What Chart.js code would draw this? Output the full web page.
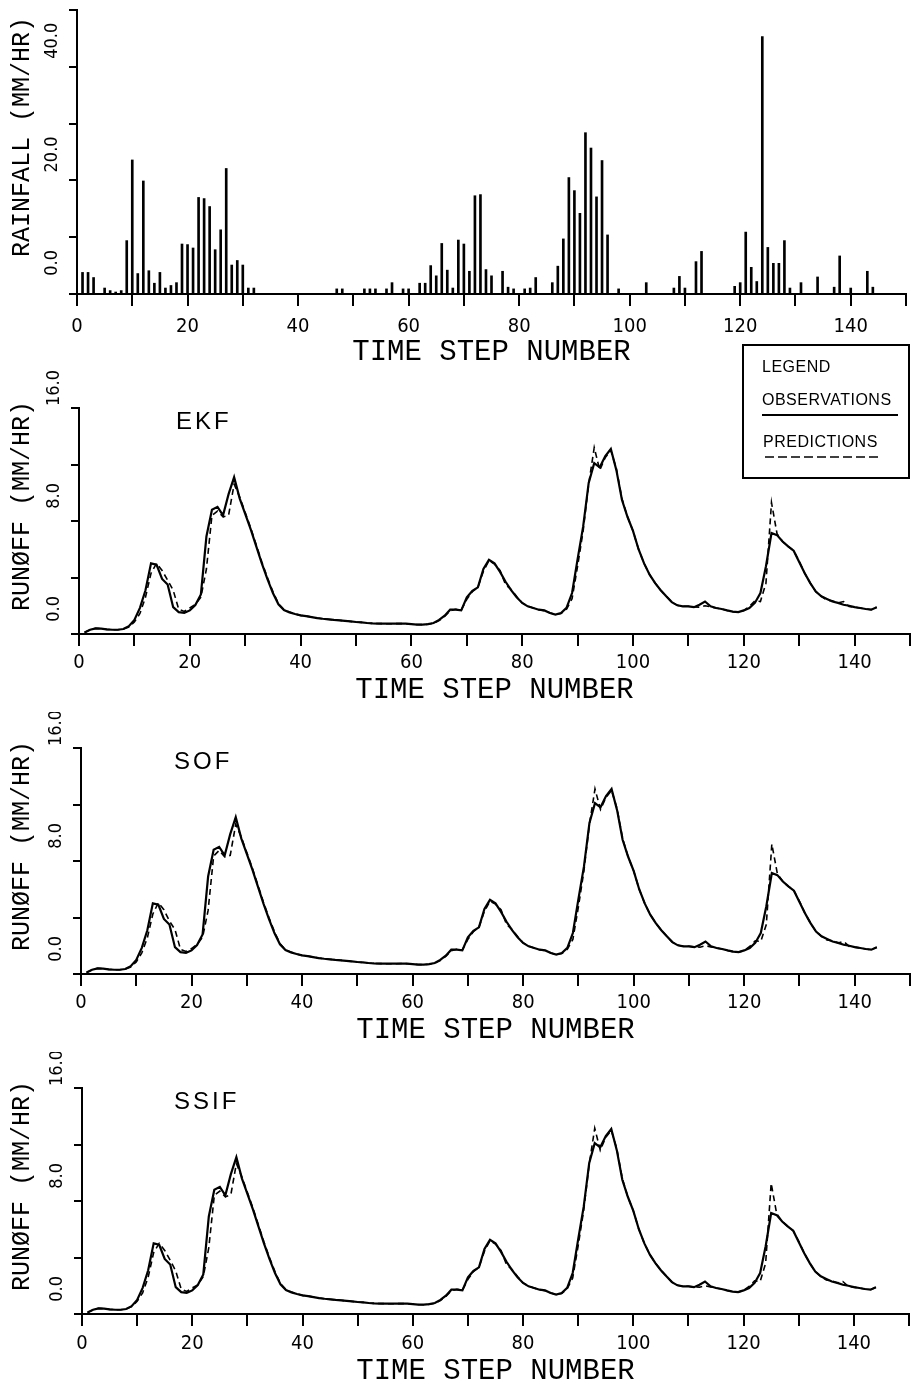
<!DOCTYPE html>
<html>
<head>
<meta charset="utf-8">
<title>Rainfall and runoff: EKF / SOF / SSIF</title>
<script src="https://cdn.jsdelivr.net/npm/chart.js@4.4.1/dist/chart.umd.min.js"></script>
<style>
  html, body { margin: 0; padding: 0; background: #fff; }
  body { width: 917px; height: 1387px; position: relative; overflow: hidden; }
  canvas { position: absolute; left: 0; }
</style>
</head>
<body>
<canvas id="rainChart" width="917" height="402" style="top:-30px"></canvas>
<canvas id="ekfChart" width="917" height="376" style="top:336px"></canvas>
<canvas id="sofChart" width="917" height="340" style="top:712px"></canvas>
<canvas id="ssifChart" width="917" height="335" style="top:1052px"></canvas>
<script>
// ----- DATA -----
const rainSteps = [1, 2, 3, 5, 6, 7, 8, 9, 10, 11, 12, 13, 14, 15, 16, 17, 18, 19, 20, 21,
  22, 23, 24, 25, 26, 27, 28, 29, 30, 31, 32, 47, 48, 52, 53, 54, 56, 57, 59, 60,
  62, 63, 64, 65, 66, 67, 68, 69, 70, 71, 72, 73, 74, 75, 77, 78, 79, 81, 82, 83,
  86, 87, 88, 89, 90, 91, 92, 93, 94, 95, 96, 98, 103, 108, 109, 110, 112, 113,
  119, 120, 121, 122, 123, 124, 125, 126, 127, 128, 129, 131, 134, 137, 138, 140, 143, 144];
const rainValues = [3.8, 3.8, 2.9, 1.05, 0.6, 0.35, 0.6, 9.4, 23.6, 3.6, 19.9, 4.1, 1.9, 3.8, 1.05, 1.5, 2.0, 8.8, 8.7, 8.1,
  17.0, 16.8, 15.4, 7.8, 11.3, 22.1, 5.1, 5.9, 5.1, 1.05, 1.05, 0.9, 0.9, 0.9, 0.9, 0.9, 0.9, 2.0, 0.9, 0.9,
  1.9, 1.9, 5.0, 3.2, 8.9, 4.2, 1.05, 9.5, 8.8, 4.0, 17.3, 17.5, 4.3, 3.2, 4.0, 1.2, 0.9, 0.9, 1.05, 2.9,
  2.0, 4.9, 9.7, 20.5, 18.2, 14.2, 28.4, 25.7, 17.1, 23.5, 10.4, 0.9, 2.0, 1.05, 3.1, 1.05, 5.7, 7.5,
  1.35, 2.0, 10.9, 4.7, 2.2, 45.3, 8.2, 5.4, 5.4, 9.4, 1.05, 2.0, 3.0, 1.2, 6.7, 1.05, 4.0, 1.2];

const timeSteps = Array.from({ length: 144 }, (_, i) => i + 1);

const observed = [
  0.10, 0.30, 0.40, 0.38, 0.33, 0.30, 0.30, 0.35, 0.55, 1.00, 1.85, 3.10,
  5.00, 4.90, 3.90, 3.50, 1.90, 1.55, 1.50, 1.67, 2.05, 2.80, 6.90, 8.80,
  9.00, 8.40, 9.90, 11.10, 9.60, 8.50, 7.40, 6.20, 5.00, 3.90, 2.90, 2.10,
  1.70, 1.53, 1.42, 1.32, 1.27, 1.20, 1.13, 1.08, 1.04, 1.00, 0.97, 0.93,
  0.89, 0.85, 0.82, 0.78, 0.75, 0.74, 0.73, 0.73, 0.73, 0.74, 0.73, 0.70,
  0.67, 0.66, 0.70, 0.78, 1.00, 1.30, 1.72, 1.72, 1.67, 2.60, 3.05, 3.30,
  4.60, 5.25, 5.00, 4.40, 3.70, 3.10, 2.60, 2.20, 1.96, 1.84, 1.72, 1.67,
  1.49, 1.37, 1.49, 1.85, 2.90, 5.30, 7.60, 10.70, 12.10, 11.80, 12.60, 13.10,
  11.60, 9.50, 8.30, 7.30, 6.00, 5.00, 4.20, 3.60, 3.10, 2.67, 2.26, 2.03,
  1.96, 1.96, 1.90, 2.07, 2.30, 1.96, 1.84, 1.77, 1.67, 1.58, 1.55, 1.67,
  1.84, 2.20, 2.90, 4.80, 7.15, 7.00, 6.55, 6.20, 5.90, 5.10, 4.30, 3.60,
  3.00, 2.67, 2.48, 2.30, 2.20, 2.07, 2.00, 1.90, 1.84, 1.77, 1.72, 1.90
];

const ekfPredicted = [
  0.10, 0.30, 0.40, 0.38, 0.33, 0.30, 0.30, 0.35, 0.50, 0.85, 1.45, 2.60,
  4.30, 5.00, 4.50, 3.80, 3.10, 1.75, 1.60, 1.85, 2.10, 2.60, 4.60, 8.40,
  8.70, 8.30, 8.40, 10.60, 9.70, 8.60, 7.50, 6.30, 5.10, 4.00, 3.00, 2.15,
  1.72, 1.55, 1.42, 1.32, 1.27, 1.20, 1.13, 1.08, 1.04, 1.00, 0.97, 0.93,
  0.89, 0.85, 0.82, 0.78, 0.75, 0.74, 0.73, 0.73, 0.73, 0.74, 0.73, 0.70,
  0.67, 0.66, 0.69, 0.76, 0.95, 1.25, 1.65, 1.75, 1.70, 2.45, 3.00, 3.30,
  4.45, 5.20, 4.95, 4.50, 3.50, 3.15, 2.65, 2.20, 1.98, 1.84, 1.72, 1.65,
  1.50, 1.37, 1.45, 1.75, 2.50, 4.80, 7.30, 10.60, 13.20, 11.60, 12.50, 13.00,
  11.70, 9.60, 8.30, 7.30, 6.00, 5.00, 4.20, 3.60, 3.10, 2.67, 2.26, 2.03,
  1.96, 1.96, 1.92, 1.90, 2.00, 1.92, 1.84, 1.77, 1.67, 1.58, 1.55, 1.67,
  1.95, 2.35, 2.30, 3.60, 9.30, 7.10, 6.55, 6.20, 5.90, 5.15, 4.30, 3.60,
  3.00, 2.67, 2.40, 2.35, 2.20, 2.30, 1.95, 1.90, 1.84, 1.77, 1.72, 1.90
];

const sofPredicted = [
  0.10, 0.30, 0.40, 0.38, 0.33, 0.30, 0.30, 0.35, 0.50, 0.85, 1.50, 2.55,
  4.25, 5.05, 4.55, 3.75, 3.15, 1.75, 1.60, 1.80, 2.10, 2.60, 4.50, 8.35,
  8.75, 8.30, 8.40, 10.60, 9.70, 8.60, 7.50, 6.30, 5.10, 4.00, 3.00, 2.15,
  1.72, 1.55, 1.42, 1.32, 1.27, 1.20, 1.13, 1.08, 1.04, 1.00, 0.97, 0.93,
  0.89, 0.85, 0.82, 0.78, 0.75, 0.74, 0.73, 0.73, 0.73, 0.74, 0.73, 0.70,
  0.67, 0.66, 0.69, 0.76, 0.95, 1.25, 1.65, 1.75, 1.70, 2.45, 3.00, 3.30,
  4.45, 5.15, 4.95, 4.55, 3.50, 3.15, 2.65, 2.20, 1.98, 1.84, 1.72, 1.65,
  1.50, 1.37, 1.45, 1.75, 2.45, 4.75, 7.30, 10.60, 13.10, 11.65, 12.50, 13.00,
  11.70, 9.60, 8.30, 7.30, 6.00, 5.00, 4.20, 3.60, 3.10, 2.67, 2.26, 2.03,
  1.96, 1.96, 1.92, 1.90, 2.00, 1.92, 1.84, 1.77, 1.67, 1.58, 1.55, 1.67,
  1.95, 2.35, 2.30, 3.50, 9.20, 7.10, 6.55, 6.20, 5.90, 5.15, 4.30, 3.60,
  3.00, 2.67, 2.40, 2.35, 2.20, 2.30, 1.95, 1.90, 1.84, 1.77, 1.72, 1.90
];

const ssifPredicted = [
  0.10, 0.30, 0.40, 0.38, 0.33, 0.30, 0.30, 0.35, 0.52, 0.90, 1.50, 2.60,
  4.35, 5.00, 4.50, 3.80, 3.05, 1.75, 1.60, 1.85, 2.05, 2.65, 4.70, 8.40,
  8.70, 8.30, 8.45, 10.65, 9.70, 8.60, 7.50, 6.30, 5.10, 4.00, 3.00, 2.15,
  1.72, 1.55, 1.42, 1.32, 1.27, 1.20, 1.13, 1.08, 1.04, 1.00, 0.97, 0.93,
  0.89, 0.85, 0.82, 0.78, 0.75, 0.74, 0.73, 0.73, 0.73, 0.74, 0.73, 0.70,
  0.67, 0.66, 0.69, 0.76, 0.95, 1.25, 1.65, 1.75, 1.70, 2.45, 3.00, 3.30,
  4.45, 5.20, 4.95, 4.50, 3.50, 3.15, 2.65, 2.20, 1.98, 1.84, 1.72, 1.65,
  1.50, 1.37, 1.45, 1.78, 2.55, 4.85, 7.35, 10.60, 13.15, 11.60, 12.50, 13.00,
  11.70, 9.60, 8.30, 7.30, 6.00, 5.00, 4.20, 3.60, 3.10, 2.67, 2.26, 2.03,
  1.96, 1.96, 1.92, 1.90, 2.00, 1.92, 1.84, 1.77, 1.67, 1.58, 1.55, 1.67,
  1.95, 2.35, 2.30, 3.60, 9.25, 7.10, 6.55, 6.20, 5.90, 5.15, 4.30, 3.60,
  3.00, 2.67, 2.40, 2.35, 2.20, 2.30, 1.95, 1.90, 1.84, 1.77, 1.72, 1.90
];

const xTickLabels = [0, 20, 40, 60, 80, 100, 120, 140];
const rainTickLabels = [0, 20, 40];
const runoffTickLabels = [0, 8, 16];


// ----- FONTS / DEFAULTS -----
const MONO = "'Liberation Mono', 'DejaVu Sans Mono', monospace";
const NARROW = "'Liberation Sans Narrow', 'DejaVu Sans Condensed', 'Liberation Sans', sans-serif";
const SANS = "'Liberation Sans', Arial, sans-serif";

Chart.defaults.color = "#000";
Chart.defaults.animation = false;


// ----- AXIS HELPERS -----
function timeAxis(tickPad, titlePad, height) {
    return {
        type: "linear",
        min: 0,
        max: 150,
        offset: false,
        border: { display: true, color: "#000", width: 2 },
        grid: {
            display: true, drawOnChartArea: false, drawTicks: true, offset: false,
            tickLength: 12, lineWidth: 2, color: "#000"
        },
        ticks: {
            stepSize: 10, autoSkip: false, minRotation: 0, maxRotation: 0,
            padding: tickPad, color: "#000",
            font: { family: NARROW, size: 20, lineHeight: 1 },
            callback: v => xTickLabels.includes(v) ? String(v) : ""
        },
        title: {
            display: true, text: "TIME STEP NUMBER", color: "#000",
            font: { family: MONO, size: 29, lineHeight: 1 },
            padding: { top: 0, bottom: titlePad }
        },
        afterFit: s => { s.height = height; }
    };
}

// leading spaces nudge the rotated title a little above the axis centre, as in the original plot
function valueAxis(max, step, labels, width, labelShift, titleText) {
    return {
        min: 0,
        max: max,
        border: { display: true, color: "#000", width: 2 },
        grid: {
            display: true, drawOnChartArea: false, drawTicks: true,
            tickLength: 8, lineWidth: 2, color: "#000"
        },
        ticks: {
            stepSize: step, autoSkip: false, minRotation: 90, maxRotation: 90,
            labelOffset: labelShift, padding: 17, color: "#000",
            font: { family: NARROW, size: 18, lineHeight: 1 },
            callback: v => labels.includes(v) ? v.toFixed(1) : ""
        },
        title: {
            display: true, text: "  " + titleText, color: "#000",
            font: { family: MONO, size: 25, lineHeight: 1 },
            padding: { top: 10, bottom: 0 }
        },
        afterFit: s => { s.width = width; }
    };
}

function points(values, steps) {
    return values.map((v, i) => ({ x: steps[i], y: v }));
}


// ----- PLUGINS -----
const panelLabel = {
    id: "panelLabel",
    afterDraw(chart, args, opts) {
        if (!opts.text) return;
        const { ctx, chartArea } = chart;
        ctx.save();
        ctx.font = "24px " + SANS;
        ctx.letterSpacing = "3px";
        ctx.fillStyle = "#000";
        ctx.fillText(opts.text, chartArea.left + opts.dx, chartArea.top + opts.dy);
        ctx.restore();
    }
};

const legendBox = {
    id: "legendBox",
    afterDraw(chart) {
        const { ctx, chartArea } = chart;
        const left = chartArea.right - 167;
        const top = chartArea.top - 63;
        ctx.save();
        ctx.strokeStyle = "#000";
        ctx.lineWidth = 2;
        ctx.strokeRect(left, top, 166, 133);

        ctx.fillStyle = "#000";
        ctx.font = "16px " + SANS;
        ctx.letterSpacing = "0.5px";
        ctx.fillText("LEGEND", left + 19, top + 27);
        ctx.fillText("OBSERVATIONS", left + 19, top + 60);
        ctx.fillText("PREDICTIONS", left + 20, top + 102);

        ctx.beginPath();
        ctx.moveTo(left + 19, top + 70);
        ctx.lineTo(left + 155, top + 70);
        ctx.stroke();

        ctx.setLineDash([9, 4]);
        ctx.lineWidth = 1.6;
        ctx.beginPath();
        ctx.moveTo(left + 22, top + 112);
        ctx.lineTo(left + 138, top + 112);
        ctx.stroke();
        ctx.restore();
    }
};


// ----- RAINFALL CHART -----
new Chart(document.getElementById("rainChart"), {
    type: "bar",
    data: {
        datasets: [{
            data: points(rainValues, rainSteps),
            backgroundColor: "#000",
            borderWidth: 0,
            barThickness: 2
        }]
    },
    options: {
        responsive: false,
        layout: { padding: { top: 40, right: 4, left: 0, bottom: 0 } },
        plugins: { legend: { display: false }, tooltip: { enabled: false } },
        scales: {
            x: timeAxis(11, 5, 78),
            y: valueAxis(50, 10, rainTickLabels, 77, -44, "RAINFALL (MM/HR)")
        }
    }
});


// ----- RUNOFF CHARTS -----
function runoffChart(id, predicted, name, geo, extraPlugins) {
    return new Chart(document.getElementById(id), {
        type: "line",
        data: {
            datasets: [
                {
                    label: "OBSERVATIONS",
                    data: points(observed, timeSteps),
                    borderColor: "#000",
                    borderWidth: 2.2,
                    pointRadius: 0,
                    tension: 0,
                    fill: false
                },
                {
                    label: "PREDICTIONS",
                    data: points(predicted, timeSteps),
                    borderColor: "#000",
                    borderWidth: 1.6,
                    borderDash: [6, 4],
                    pointRadius: 0,
                    tension: 0,
                    fill: false
                }
            ]
        },
        options: {
            responsive: false,
            layout: { padding: { top: geo.top, right: geo.right, left: 0, bottom: 0 } },
            plugins: {
                legend: { display: false },
                tooltip: { enabled: false },
                panelLabel: { text: name, dx: geo.labelDx, dy: 21 }
            },
            scales: {
                x: timeAxis(geo.tickPad, geo.titlePad, geo.xHeight),
                y: valueAxis(16, 4, runoffTickLabels, geo.left, -38, "RUNØFF (MM/HR)")
            }
        },
        plugins: [panelLabel].concat(extraPlugins || [])
    });
}

runoffChart("ekfChart", ekfPredicted, "EKF",
    { top: 72, right: 2, left: 79, xHeight: 78, tickPad: 7, titlePad: 7, labelDx: 97 }, [legendBox]);
runoffChart("sofChart", sofPredicted, "SOF",
    { top: 36, right: 0, left: 81, xHeight: 78, tickPad: 7, titlePad: 7, labelDx: 93 });
runoffChart("ssifChart", ssifPredicted, "SSIF",
    { top: 36, right: 0, left: 82, xHeight: 73, tickPad: 8, titlePad: 1, labelDx: 92 });
</script>
</body>
</html>
